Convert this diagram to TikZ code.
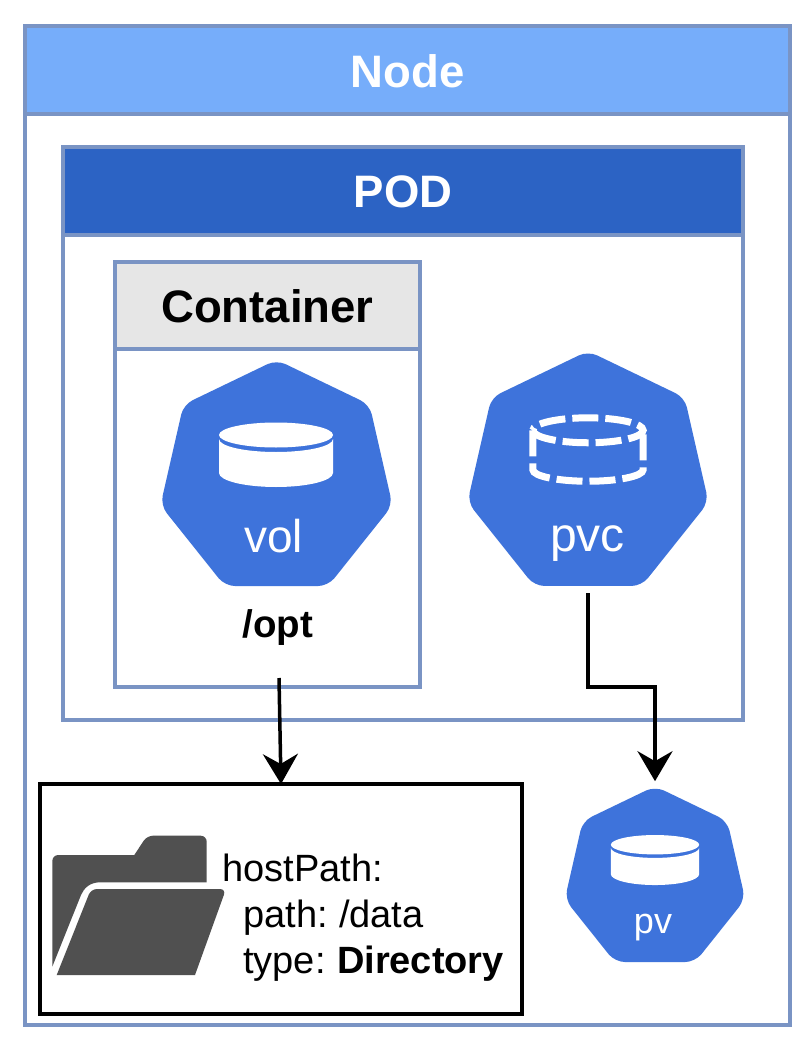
\documentclass[tikz,border=0pt]{standalone}
\usepackage{fontspec}
\setmainfont[WordSpace=0.75]{Liberation Sans}
\usepackage{xcolor}
\usetikzlibrary{calc,arrows.meta,shapes.geometric}
\definecolor{frameblue}{HTML}{7A94C4}
\definecolor{nodeblue}{HTML}{76ADFA}
\definecolor{podblue}{HTML}{2C63C4}
\definecolor{kubeblue}{HTML}{3E73DB}
\definecolor{headgray}{HTML}{E6E6E6}
\definecolor{foldergray}{HTML}{505050}
\newcommand{\fsize}[1]{\fontsize{#1}{#1}\selectfont}
\tikzset{
  frame/.style={draw=frameblue,line width=3.5pt,inner sep=0pt,outer sep=0pt},
  headtext/.style={frame,font=\fsize{45.5}\bfseries,text depth=0pt},
  hepta/.style={regular polygon,regular polygon sides=7,fill=kubeblue,inner sep=0pt,outer sep=0pt,rounded corners=10pt},
  heptatext/.style={text=white,anchor=base,inner sep=0pt},
  flow/.style={line width=3.5pt,-{Stealth[length=30pt,width=35pt,inset=10pt]}},
  disk/.pic={
    \fill[white] (0,-45) ellipse[x radius=57,y radius=12.5];
    \fill[white] (-57,-41) arc[start angle=180,end angle=0,x radius=57,y radius=13]
        -- (57,-7) arc[start angle=0,end angle=180,x radius=57,y radius=14] -- cycle;
  },
  claim/.pic={
    \draw[white,line width=7pt,dash pattern=on 26pt off 7pt]
        (-53,-43) arc[start angle=180,end angle=-180,x radius=53,y radius=12];
    \draw[white,line width=7pt,dash pattern=on 26pt off 7pt]
        (-53,-43) -- (-53,-5) arc[start angle=180,end angle=0,x radius=53,y radius=11] -- (53,-43);
  }
}
\begin{document}
\begin{tikzpicture}[x=1pt,y=-1pt]
\useasboundingbox[fill=white] (0,0) rectangle (810,1046);

\node[frame,minimum width=765pt,minimum height=999pt] (nodebox) at (407.5,525.5) {};
\node[headtext,text height=36pt,fill=nodeblue,text=white,minimum width=765pt,minimum height=88pt] (nodehead) at (407.5,70) {Node};

\node[frame,fill=white,minimum width=680pt,minimum height=573pt] (podbox) at (403,433.5) {};
\node[headtext,text height=33pt,fill=podblue,text=white,minimum width=680pt,minimum height=88pt] (podhead) at (403,191) {POD};

\node[frame,fill=white,minimum width=305pt,minimum height=425pt] (contbox) at (267.5,474.5) {};
\node[headtext,text height=34pt,fill=headgray,text=black,minimum width=305pt,minimum height=87pt] (conthead) at (267.5,305.5) {Container};

% kube icons
\node[hepta,minimum size=238pt] (vol) at (276.5,478.8) {};
\node[hepta,minimum size=247.2pt] (pvc) at (588,474.6) {};
\node[hepta,minimum size=185pt] (pv) at (655,878.7) {};

\pic at (276,480) {disk};
\pic[scale=1.04] at (588,475) {claim};
\pic[scale=.775] at (655,879.6) {disk};

\node[heptatext,font=\fsize{46}] (voltext) at (273.5,552) {vol};
\node[heptatext,font=\fsize{48}] (pvctext) at (587.5,551) {pvc};
\node[heptatext,font=\fsize{36}] (pvtext) at (653,933) {pv};
\node[anchor=base,inner sep=0pt,font=\fsize{38.5}\bfseries] (opttext) at (278,637) {/opt};

% host path
\node[draw,line width=3.5pt,inner sep=0pt,outer sep=0pt,minimum width=482pt,minimum height=230pt] (hostbox) at (281,899) {};

\fill[foldergray] (52.3,966.7) [rounded corners=6pt] -- (52.3,855) [sharp corners] -- (134.3,855)
    -- (134.3,855) [rounded corners=6pt] -- (147,835.7) -- (206.7,835.7) [sharp corners] -- (206.7,882.3)
    -- (100,882.3) .. controls (90,882.3) and (84,888) .. (81,895) -- cycle;
\fill[foldergray] (56.7,975) [rounded corners=6pt] -- (91,889) -- (226,889) [sharp corners] -- (195,975) -- cycle;

\node[anchor=west,align=left,inner sep=0pt,font=\fsize{38}] (hosttext) at (222,918)
    {hostPath:\\[8pt]\hspace{21pt}path: /data\\[8pt]\hspace{21pt}type: \textbf{Directory}};

% connectors
\coordinate (optend) at (279,678);
\coordinate (pvcend) at (588,593);
\coordinate (pvtip) at ($(pv.north)+(0,-5)$);

\draw[flow] (optend) -- (hostbox.north);
\draw[flow] (pvcend) -- ++(0,94) -| (pvtip);

\end{tikzpicture}
\end{document}
